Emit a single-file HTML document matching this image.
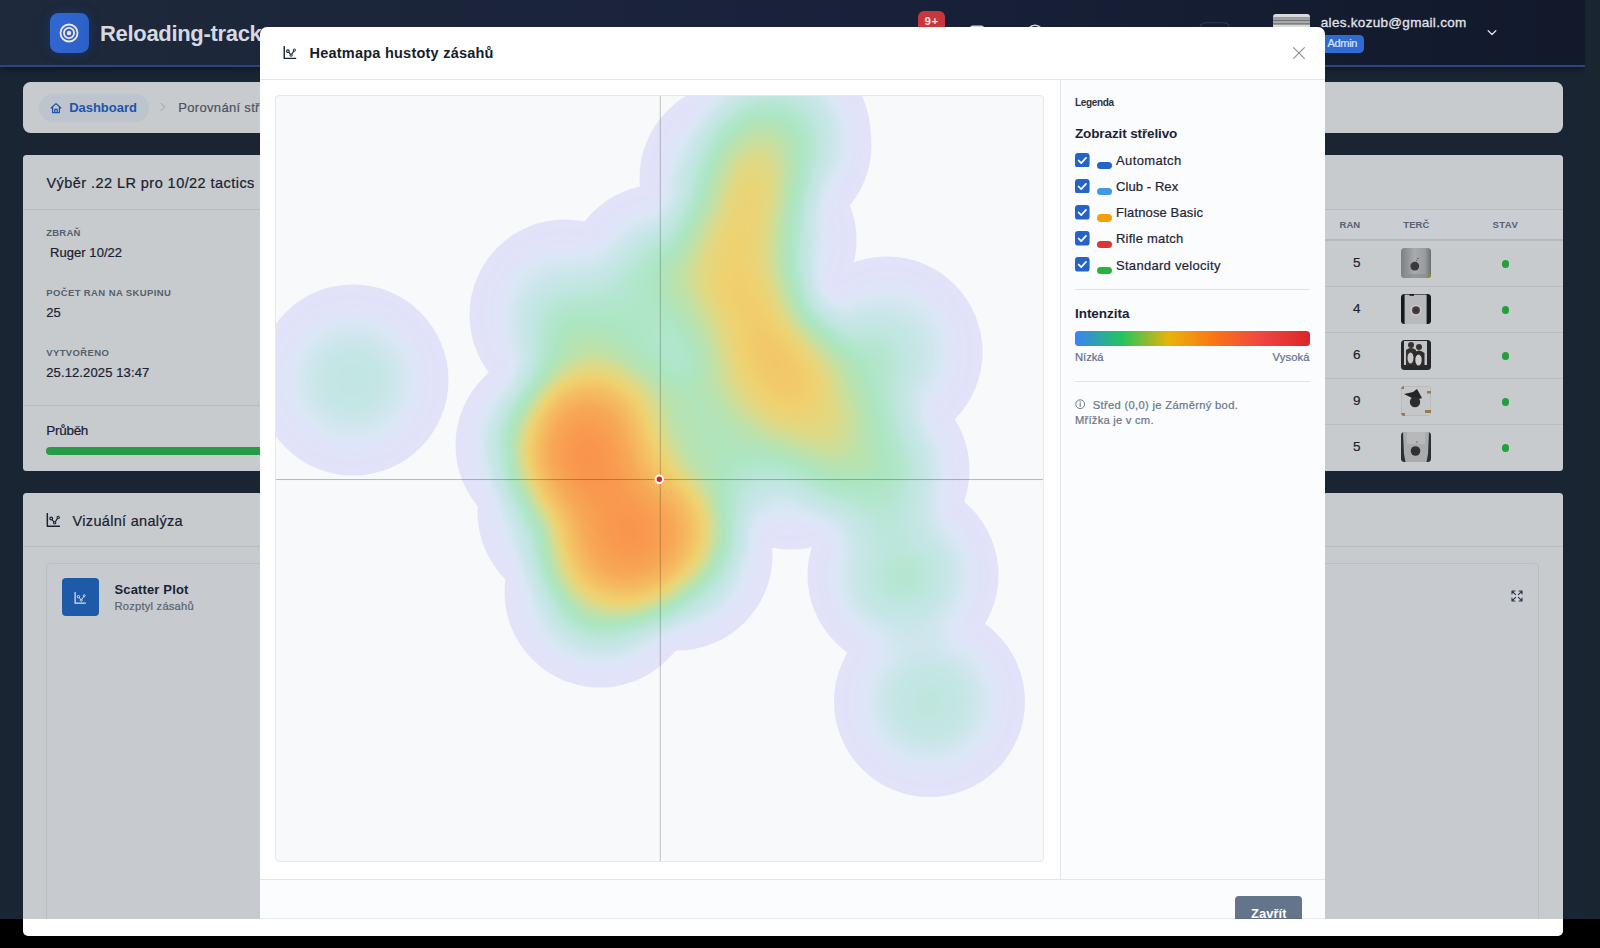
<!DOCTYPE html>
<html lang="cs"><head><meta charset="utf-8"><title>Reloading-tracker</title>
<style>
html,body{margin:0;padding:0;}
body{width:1600px;height:948px;overflow:hidden;background:#000;position:relative;font-family:"Liberation Sans", "DejaVu Sans", sans-serif;}
.t{position:absolute;white-space:nowrap;line-height:1;}
.abs{position:absolute;}
.card{position:absolute;background:#c8cbce;border-radius:3.5px;}
</style></head><body>
<div class="abs" style="left:0;top:0;width:1600px;height:919px;background:#1a2533;"></div>
<div class="abs" style="left:1584.5px;top:0;width:15.5px;height:919px;background:#192530;"></div>
<div class="abs" style="left:0;top:0;width:1584.5px;height:82px;overflow:hidden;"><div class="abs" style="left:0;top:0;width:1584.5px;height:65.2px;background:linear-gradient(90deg,#1e293b 0%,#19223a 50%,#11192b 100%);border-bottom:2px solid #2a467d;box-shadow:0 2px 7px rgba(0,0,0,.45);"></div></div>
<div class="abs" style="left:49.5px;top:12.9px;width:39.5px;height:40px;border-radius:8.5px;background:linear-gradient(100deg,#3068d2,#2b60c6);box-shadow:0 0 9px rgba(20,40,90,.55),0 0 12px rgba(47,104,212,.25);"></div>
<svg class="abs" style="left:57px;top:21.1px" width="24" height="24" viewBox="0 0 24 24"><circle cx="12" cy="12" r="8.5" fill="none" stroke="#f3e6d6" stroke-width="1.8"/><circle cx="12" cy="12" r="5.1" fill="none" stroke="#f3e6d6" stroke-width="1.8"/><circle cx="12" cy="12" r="2.2" fill="#f3e6d6"/></svg>
<span id="t1" class="t" style="left:100.00px;top:22.78px;font-size:22px;font-weight:700;color:#d4d9e2;letter-spacing:-0.316px;">Reloading-tracker</span>
<div class="abs" style="left:918px;top:11.3px;width:26.5px;height:22px;border-radius:6px;background:#c8373c;"></div>
<span id="t2" class="t" style="left:931.69px;transform:translateX(-50%);top:15.87px;font-size:11.5px;font-weight:700;color:#f3e1e1;letter-spacing:0.575px;">9+</span>
<svg class="abs" style="left:960px;top:18px" width="290" height="30" viewBox="960 18 290 30"><rect x="970.7" y="26.2" width="12.6" height="11" rx="2" fill="none" stroke="#d5dae3" stroke-width="1.5"/><circle cx="1035" cy="33.6" r="8.3" fill="none" stroke="#d5dae3" stroke-width="1.5"/><rect x="1199.5" y="22.8" width="30.5" height="22" rx="6" fill="none" stroke="#2f3b52" stroke-width="1.1"/></svg>
<div class="abs" style="left:1272.5px;top:13.7px;width:37.5px;height:37.5px;border-radius:3px;background:linear-gradient(180deg,#dcdee0 0,#d4d6d8 2.6px,#9a9c9e 3.4px,#9fa1a3 5.6px,#6f7173 6.2px,#6f7173 6.9px,#a7a9ab 7.4px,#a7a9ab 9px,#7d7f81 9.5px,#7d7f81 10.3px,#d7d9db 11px,#d7d9db 14px,#8a8d90 20px,#5c5f62 100%);"></div>
<span id="t3" class="t" style="left:1320.80px;top:15.57px;font-size:13.5px;font-weight:400;color:#e1e5ec;letter-spacing:0.302px;-webkit-text-stroke:.3px #e1e5ec;">ales.kozub@gmail.com</span>
<div class="abs" style="left:1320px;top:34.5px;width:44px;height:18px;border-radius:4.5px;background:#2f6bd0;"></div>
<span id="t4" class="t" style="left:1327.50px;top:38.19px;font-size:11px;font-weight:400;color:#d9e6fb;letter-spacing:-0.297px;-webkit-text-stroke:.22px #d9e6fb;">Admin</span>
<svg class="abs" style="left:1486px;top:28px" width="12" height="10" viewBox="0 0 12 10"><path d="M2.2 2.8 L6 6.6 L9.8 2.8" fill="none" stroke="#d5dae3" stroke-width="1.4" stroke-linecap="round" stroke-linejoin="round"/></svg>
<div class="card" style="left:22.5px;top:82px;width:1540.2px;height:50.8px;border-radius:7.5px;"></div>
<div class="abs" style="left:38.8px;top:94px;width:110px;height:27.5px;border-radius:14px;background:#bdc4cd;"></div>
<svg class="abs" style="left:50px;top:101.5px" width="12" height="12" viewBox="0 0 12 12"><path d="M1.2 6 L6 1.6 L10.8 6 M2.6 5.2 V10.6 H9.4 V5.2 M4.8 10.6 V7.4 H7.2 V10.6" fill="none" stroke="#1e54a8" stroke-width="1.2" stroke-linejoin="round" stroke-linecap="round"/></svg>
<span id="t5" class="t" style="left:69.20px;top:101.20px;font-size:13px;font-weight:700;color:#1e54a8;letter-spacing:-0.026px;">Dashboard</span>
<svg class="abs" style="left:159px;top:102px" width="8" height="10" viewBox="0 0 8 10"><path d="M2 1.4 L5.8 5 L2 8.6" fill="none" stroke="#adb3bb" stroke-width="1.4" stroke-linecap="round" stroke-linejoin="round"/></svg>
<span id="t6" class="t" style="left:178.30px;top:101.20px;font-size:13px;font-weight:400;color:#4b5462;letter-spacing:0.320px;-webkit-text-stroke:.22px #4b5462;">Porovnání střeliva</span>
<div class="card" style="left:22.5px;top:155.3px;width:1540.2px;height:315.3px;"></div>
<span id="t7" class="t" style="left:46.40px;top:176.23px;font-size:14.5px;font-weight:400;color:#1a2233;letter-spacing:0.446px;-webkit-text-stroke:.22px #1a2233;">Výběr .22 LR pro 10/22 tactics</span>
<div class="abs" style="left:22.5px;top:208.8px;width:1540px;height:1px;background:#b9bcc0;"></div>
<span id="t8" class="t" style="left:46.20px;top:227.76px;font-size:9.5px;font-weight:700;color:#545f70;letter-spacing:0.238px;">ZBRAŇ</span>
<span id="t9" class="t" style="left:50.00px;top:246.30px;font-size:13px;font-weight:400;color:#1a2233;letter-spacing:0.054px;-webkit-text-stroke:.22px #1a2233;">Ruger 10/22</span>
<span id="t10" class="t" style="left:46.20px;top:287.76px;font-size:9.5px;font-weight:700;color:#545f70;letter-spacing:0.386px;">POČET RAN NA SKUPINU</span>
<span id="t11" class="t" style="left:46.20px;top:306.20px;font-size:13px;font-weight:400;color:#1a2233;letter-spacing:0.131px;-webkit-text-stroke:.22px #1a2233;">25</span>
<span id="t12" class="t" style="left:46.20px;top:347.56px;font-size:9.5px;font-weight:700;color:#545f70;letter-spacing:0.393px;">VYTVOŘENO</span>
<span id="t13" class="t" style="left:46.20px;top:366.20px;font-size:13px;font-weight:400;color:#1a2233;letter-spacing:0.125px;-webkit-text-stroke:.22px #1a2233;">25.12.2025 13:47</span>
<div class="abs" style="left:22.5px;top:405.1px;width:300px;height:1px;background:#b9bcc0;"></div>
<span id="t14" class="t" style="left:46.20px;top:423.57px;font-size:13.5px;font-weight:400;color:#1a2233;letter-spacing:-0.269px;-webkit-text-stroke:.22px #1a2233;">Průběh</span>
<div class="abs" style="left:45.8px;top:446.7px;width:230px;height:8.3px;border-radius:4.2px 0 0 4.2px;background:#289b46;"></div>
<div class="abs" style="left:1300px;top:210px;width:262.5px;height:30px;background:#cacdd1;"></div>
<div class="abs" style="left:1300px;top:239.2px;width:262.5px;height:2px;background:#b5b9be;"></div>
<div class="abs" style="left:1300px;top:285.8px;width:262.5px;height:1px;background:#b9bcc0;"></div>
<div class="abs" style="left:1300px;top:331.8px;width:262.5px;height:1px;background:#b9bcc0;"></div>
<div class="abs" style="left:1300px;top:377.8px;width:262.5px;height:1px;background:#b9bcc0;"></div>
<div class="abs" style="left:1300px;top:423.8px;width:262.5px;height:1px;background:#b9bcc0;"></div>
<span id="t15" class="t" style="left:1339.60px;top:220.46px;font-size:9.5px;font-weight:700;color:#566172;letter-spacing:0.003px;">RAN</span>
<span id="t16" class="t" style="left:1403.30px;top:220.46px;font-size:9.5px;font-weight:700;color:#566172;letter-spacing:0.042px;">TERČ</span>
<span id="t17" class="t" style="left:1492.60px;top:220.46px;font-size:9.5px;font-weight:700;color:#566172;letter-spacing:0.421px;">STAV</span>
<span id="t18" class="t" style="left:1356.80px;transform:translateX(-50%);top:256.27px;font-size:13.5px;font-weight:400;color:#1a2233;letter-spacing:0.000px;-webkit-text-stroke:.22px #1a2233;">5</span>
<svg class="abs" style="left:1401.2px;top:248.0px;border-radius:3.5px;" width="30" height="30" viewBox="0 0 30 30"><defs><linearGradient id="tg1" x1="0" x2="1" y1="0" y2="0"><stop offset="0" stop-color="#7d8083"/><stop offset=".45" stop-color="#a8aaad"/><stop offset=".8" stop-color="#999b9e"/><stop offset="1" stop-color="#6c6f72"/></linearGradient></defs><rect width="30" height="30" fill="url(#tg1)"/><rect y="26" width="30" height="4" fill="#8a8c8f" fill-opacity=".6"/><circle cx="13.8" cy="18.1" r="4.4" fill="#38393c"/><circle cx="17" cy="10.5" r=".7" fill="#555"/><circle cx="15.6" cy="12.6" r=".6" fill="#5a5a5a"/><rect x="27" y="26.5" width="3" height="3" fill="#8d8a25"/></svg>
<div class="abs" style="left:1501.5px;top:259.9px;width:7.8px;height:7.8px;border-radius:50%;background:#22a03c;"></div>
<span id="t19" class="t" style="left:1356.80px;transform:translateX(-50%);top:302.27px;font-size:13.5px;font-weight:400;color:#1a2233;letter-spacing:0.000px;-webkit-text-stroke:.22px #1a2233;">4</span>
<svg class="abs" style="left:1401.2px;top:294.0px;border-radius:3.5px;" width="30" height="30" viewBox="0 0 30 30"><rect width="30" height="30" fill="#17181b"/><rect x="3.6" y="0.6" width="22" height="29.4" fill="#b7b9bb"/><rect x="8.5" y="0" width="4.5" height="1.8" fill="#17181b"/><circle cx="15" cy="16.3" r="5.6" fill="#c9cacb"/><circle cx="15" cy="16.3" r="4" fill="#4d3e42"/><circle cx="15" cy="16.3" r="2" fill="#3a2f33"/></svg>
<div class="abs" style="left:1501.5px;top:305.9px;width:7.8px;height:7.8px;border-radius:50%;background:#22a03c;"></div>
<span id="t20" class="t" style="left:1356.80px;transform:translateX(-50%);top:348.27px;font-size:13.5px;font-weight:400;color:#1a2233;letter-spacing:0.000px;-webkit-text-stroke:.22px #1a2233;">6</span>
<svg class="abs" style="left:1401.2px;top:340.0px;border-radius:3.5px;" width="30" height="30" viewBox="0 0 30 30"><rect width="30" height="30" fill="#26282b"/><rect x="3" y="1" width="23" height="24" fill="#c3c4c6"/><circle cx="10" cy="5" r="3" fill="#3a3032"/><path d="M5 10 Q10 6 15 10 V25 H5 Z" fill="#34302f"/><circle cx="18" cy="7" r="3" fill="#3a3032"/><path d="M12.5 13 Q18 8 23.5 13 V26 H12.5 Z" fill="#2f2b2c"/><ellipse cx="9.5" cy="18" rx="3" ry="5.5" fill="#c9c9ca"/><ellipse cx="17.5" cy="20" rx="3.2" ry="5.5" fill="#cfcfd0"/></svg>
<div class="abs" style="left:1501.5px;top:351.9px;width:7.8px;height:7.8px;border-radius:50%;background:#22a03c;"></div>
<span id="t21" class="t" style="left:1356.80px;transform:translateX(-50%);top:394.27px;font-size:13.5px;font-weight:400;color:#1a2233;letter-spacing:0.000px;-webkit-text-stroke:.22px #1a2233;">9</span>
<svg class="abs" style="left:1401.2px;top:386.0px;border-radius:3.5px;" width="30" height="30" viewBox="0 0 30 30"><rect width="30" height="30" fill="#b9babb"/><rect x="1" y="1" width="28" height="28" fill="#c6c7c8"/><path d="M3 8 L12 6 L16 3 L21 12 L15 14 Z" fill="#232527"/><circle cx="14" cy="16" r="5.2" fill="#2b2d30"/><rect x="0" y="0" width="3" height="3" fill="#9a7a4a"/><rect x="26" y="5" width="4" height="2.5" fill="#9a7a4a"/><rect x="24" y="24" width="6" height="3" fill="#9a7a4a"/><rect x="0" y="27" width="4" height="3" fill="#9a7a4a"/></svg>
<div class="abs" style="left:1501.5px;top:397.9px;width:7.8px;height:7.8px;border-radius:50%;background:#22a03c;"></div>
<span id="t22" class="t" style="left:1356.80px;transform:translateX(-50%);top:440.27px;font-size:13.5px;font-weight:400;color:#1a2233;letter-spacing:0.000px;-webkit-text-stroke:.22px #1a2233;">5</span>
<svg class="abs" style="left:1401.2px;top:432.0px;border-radius:3.5px;" width="30" height="30" viewBox="0 0 30 30"><rect width="30" height="30" fill="#2c2f32"/><path d="M2 0 H28 L27 22 L25.5 30 H4.5 L3 22 Z" fill="#a9abad"/><rect x="6" y="0" width="18" height="12" fill="#b6b8ba"/><circle cx="14.5" cy="19" r="4.8" fill="#303135"/><circle cx="16" cy="10" r=".7" fill="#555"/></svg>
<div class="abs" style="left:1501.5px;top:443.9px;width:7.8px;height:7.8px;border-radius:50%;background:#22a03c;"></div>
<div class="card" style="left:22.5px;top:493.4px;width:1540.2px;height:430px;"></div>
<svg class="abs" style="left:45.9px;top:513.2px" width="14.445" height="14.445" viewBox="0 0 13.5 13.5"><path d="M1.25 0.6 V12.5 H12.6" fill="none" stroke="#1a2233" stroke-width="1.4" stroke-linecap="round" stroke-linejoin="round"/><path d="M4.9 5.2 L8.1 9.2 L11.4 4.1" fill="none" stroke="#1a2233" stroke-width="1.1"/><circle cx="4.9" cy="5.2" r="1.3" fill="#c8cbce" stroke="#1a2233" stroke-width="1.1"/><circle cx="8.1" cy="9.2" r="1.1" fill="#c8cbce" stroke="#1a2233" stroke-width="1.0"/><circle cx="11.4" cy="4.1" r="1.1" fill="#c8cbce" stroke="#1a2233" stroke-width="1.0"/></svg>
<span id="t23" class="t" style="left:72.60px;top:513.53px;font-size:14.5px;font-weight:400;color:#1a2233;letter-spacing:0.310px;-webkit-text-stroke:.22px #1a2233;">Vizuální analýza</span>
<div class="abs" style="left:22.5px;top:546.3px;width:1540px;height:1px;background:#b9bcc0;"></div>
<div class="abs" style="left:46px;top:562.5px;width:1490.5px;height:380px;border:1px solid #babdc1;border-radius:4px;background:#c7cace;"></div>
<div class="abs" style="left:62px;top:578.4px;width:37px;height:37.2px;border-radius:4px;background:#1e5aa8;"></div>
<svg class="abs" style="left:74.2px;top:591.6px" width="12.15" height="12.15" viewBox="0 0 13.5 13.5"><path d="M1.25 0.6 V12.5 H12.6" fill="none" stroke="#d7e2f3" stroke-width="1.4" stroke-linecap="round" stroke-linejoin="round"/><path d="M4.9 5.2 L8.1 9.2 L11.4 4.1" fill="none" stroke="#d7e2f3" stroke-width="1.1"/><circle cx="4.9" cy="5.2" r="1.3" fill="#1e5aa8" stroke="#d7e2f3" stroke-width="1.1"/><circle cx="8.1" cy="9.2" r="1.1" fill="#1e5aa8" stroke="#d7e2f3" stroke-width="1.0"/><circle cx="11.4" cy="4.1" r="1.1" fill="#1e5aa8" stroke="#d7e2f3" stroke-width="1.0"/></svg>
<span id="t24" class="t" style="left:114.50px;top:582.80px;font-size:13px;font-weight:700;color:#1a2233;letter-spacing:0.141px;">Scatter Plot</span>
<span id="t25" class="t" style="left:114.50px;top:600.82px;font-size:11.2px;font-weight:400;color:#5a6473;letter-spacing:0.208px;-webkit-text-stroke:.22px #5a6473;">Rozptyl zásahů</span>
<svg class="abs" style="left:1511px;top:590px" width="12" height="12" viewBox="0 0 12 12"><rect x="1" y="1.5" width="10" height="10" fill="#cdd2dc"/><path d="M1 4 V1 H4 M8 1 H11 V4 M11 8 V11 H8 M4 11 H1 V8 M1.3 1.3 L4.6 4.6 M10.7 1.3 L7.4 4.6 M10.7 10.7 L7.4 7.4 M1.3 10.7 L4.6 7.4" fill="none" stroke="#2b3444" stroke-width="1.1" stroke-linecap="round" stroke-linejoin="round"/></svg>
<div class="abs" style="left:0;top:919px;width:1600px;height:29px;background:#000;"></div>
<div class="abs" style="left:22.5px;top:919px;width:1540px;height:16.6px;background:#fff;border-radius:0 0 5px 5px;"></div>
<div class="abs" style="left:260px;top:27px;width:1065px;height:892px;background:#fff;border-radius:7px 7px 0 0;overflow:hidden;">
<div class="abs" style="left:0;top:52px;width:1065px;height:1px;background:#e4e6f0;"></div>
<div class="abs" style="left:799.5px;top:53px;width:265.5px;height:800px;background:#fbfcfe;border-left:1px solid #e3e5ea;"></div>
<div class="abs" style="left:0;top:851.5px;width:1065px;height:60px;background:#fbfcfe;border-top:1px solid #e3e5ea;"></div>
</div>
<svg class="abs" style="left:283.2px;top:45.9px" width="13.5" height="13.5" viewBox="0 0 13.5 13.5"><path d="M1.25 0.6 V12.5 H12.6" fill="none" stroke="#1a2130" stroke-width="1.4" stroke-linecap="round" stroke-linejoin="round"/><path d="M4.9 5.2 L8.1 9.2 L11.4 4.1" fill="none" stroke="#1a2130" stroke-width="1.1"/><circle cx="4.9" cy="5.2" r="1.3" fill="#fff" stroke="#1a2130" stroke-width="1.1"/><circle cx="8.1" cy="9.2" r="1.1" fill="#fff" stroke="#1a2130" stroke-width="1.0"/><circle cx="11.4" cy="4.1" r="1.1" fill="#fff" stroke="#1a2130" stroke-width="1.0"/></svg>
<span id="t26" class="t" style="left:309.50px;top:46.13px;font-size:14.5px;font-weight:700;color:#161d2b;letter-spacing:0.232px;">Heatmapa hustoty zásahů</span>
<svg class="abs" style="left:1290.6px;top:45.3px" width="16" height="16" viewBox="0 0 16 16"><path d="M2.6 2.6 L13.4 13.4 M13.4 2.6 L2.6 13.4" stroke="#8a8d92" stroke-width="1.1" fill="none" stroke-linecap="round"/></svg>
<div class="abs" style="left:275px;top:95px;width:769px;height:767px;background:#f8f9fb;border:1px solid #e6e8ec;border-radius:4px;overflow:hidden;box-sizing:border-box;">
<svg class="abs" style="left:0;top:0" width="767" height="765" viewBox="276 96 767 765"><defs><radialGradient id="hg"><stop offset="0" stop-color="#000" stop-opacity="0.0950"/><stop offset="0.05" stop-color="#000" stop-opacity="0.0944"/><stop offset="0.1" stop-color="#000" stop-opacity="0.0927"/><stop offset="0.15" stop-color="#000" stop-opacity="0.0898"/><stop offset="0.2" stop-color="#000" stop-opacity="0.0859"/><stop offset="0.25" stop-color="#000" stop-opacity="0.0811"/><stop offset="0.3" stop-color="#000" stop-opacity="0.0754"/><stop offset="0.35" stop-color="#000" stop-opacity="0.0691"/><stop offset="0.4" stop-color="#000" stop-opacity="0.0622"/><stop offset="0.45" stop-color="#000" stop-opacity="0.0549"/><stop offset="0.5" stop-color="#000" stop-opacity="0.0475"/><stop offset="0.55" stop-color="#000" stop-opacity="0.0401"/><stop offset="0.6" stop-color="#000" stop-opacity="0.0328"/><stop offset="0.65" stop-color="#000" stop-opacity="0.0259"/><stop offset="0.7" stop-color="#000" stop-opacity="0.0196"/><stop offset="0.75" stop-color="#000" stop-opacity="0.0139"/><stop offset="0.8" stop-color="#000" stop-opacity="0.0091"/><stop offset="0.85" stop-color="#000" stop-opacity="0.0052"/><stop offset="0.9" stop-color="#000" stop-opacity="0.0023"/><stop offset="0.95" stop-color="#000" stop-opacity="0.0006"/><stop offset="1" stop-color="#000" stop-opacity="0.0000"/></radialGradient><filter id="heat" filterUnits="userSpaceOnUse" x="256" y="76" width="808" height="807" color-interpolation-filters="sRGB"><feColorMatrix type="matrix" values="0 0 0 1 0  0 0 0 1 0  0 0 0 1 0  0 0 0 0 1"/><feComponentTransfer><feFuncR type="table" tableValues="0.8863 0.8835 0.8744 0.8598 0.8400 0.8201 0.8040 0.7888 0.7737 0.7668 0.7604 0.7463 0.7321 0.7180 0.7079 0.6997 0.6914 0.6832 0.6749 0.6846 0.6952 0.7058 0.7164 0.7271 0.7377 0.7508 0.7696 0.7885 0.8074 0.8262 0.8451 0.8640 0.8775 0.8881 0.8987 0.9093 0.9199 0.9306 0.9412 0.9429 0.9446 0.9463 0.9481 0.9498 0.9515 0.9532 0.9549 0.9567 0.9584 0.9601 0.9611 0.9616 0.9621 0.9626 0.9632 0.9637 0.9642 0.9647 0.9652 0.9657 0.9663 0.9668 0.9673 0.9678 0.9683 0.9688 0.9692 0.9697 0.9701 0.9705 0.9710 0.9714 0.9718 0.9723 0.9727 0.9731 0.9736 0.9740 0.9745 0.9749 0.9753 0.9758 0.9762 0.9765 0.9765 0.9765 0.9765 0.9765 0.9765 0.9765 0.9765 0.9765 0.9765 0.9765 0.9765 0.9765 0.9765 0.9765 0.9765 0.9765 0.9765"/><feFuncG type="table" tableValues="0.8863 0.8918 0.8989 0.9059 0.9059 0.9059 0.9048 0.9034 0.9021 0.9020 0.9020 0.9020 0.9020 0.9020 0.9020 0.9020 0.9020 0.9020 0.9020 0.8997 0.8974 0.8950 0.8926 0.8903 0.8879 0.8849 0.8801 0.8754 0.8707 0.8660 0.8613 0.8566 0.8518 0.8471 0.8424 0.8377 0.8330 0.8282 0.8235 0.8166 0.8098 0.8029 0.7960 0.7891 0.7822 0.7754 0.7685 0.7616 0.7547 0.7479 0.7420 0.7368 0.7317 0.7265 0.7214 0.7162 0.7110 0.7059 0.7007 0.6956 0.6904 0.6852 0.6801 0.6749 0.6698 0.6654 0.6621 0.6588 0.6556 0.6523 0.6491 0.6458 0.6426 0.6393 0.6360 0.6328 0.6295 0.6263 0.6230 0.6197 0.6165 0.6132 0.6100 0.6068 0.6040 0.6011 0.5983 0.5954 0.5926 0.5897 0.5868 0.5840 0.5811 0.5783 0.5754 0.5725 0.5702 0.5678 0.5655 0.5631 0.5608"/><feFuncB type="table" tableValues="0.9765 0.9765 0.9733 0.9664 0.9515 0.9367 0.9237 0.9114 0.8990 0.8923 0.8858 0.8669 0.8481 0.8292 0.8143 0.8011 0.7879 0.7747 0.7614 0.7473 0.7332 0.7190 0.7049 0.6907 0.6766 0.6605 0.6398 0.6192 0.5986 0.5779 0.5573 0.5366 0.5206 0.5070 0.4935 0.4799 0.4663 0.4528 0.4392 0.4347 0.4303 0.4258 0.4213 0.4169 0.4124 0.4079 0.4034 0.3990 0.3945 0.3900 0.3865 0.3837 0.3809 0.3780 0.3752 0.3723 0.3695 0.3667 0.3638 0.3610 0.3582 0.3553 0.3525 0.3496 0.3468 0.3444 0.3427 0.3409 0.3392 0.3375 0.3357 0.3340 0.3322 0.3305 0.3288 0.3270 0.3253 0.3235 0.3218 0.3201 0.3183 0.3166 0.3149 0.3133 0.3120 0.3107 0.3095 0.3082 0.3069 0.3057 0.3044 0.3031 0.3018 0.3006 0.2993 0.2980 0.2973 0.2965 0.2957 0.2949 0.2941"/></feComponentTransfer><feGaussianBlur stdDeviation="1.6"/></filter><clipPath id="hc"><circle cx="353" cy="380" r="95.5"/><circle cx="735" cy="178" r="95.5"/><circle cx="776" cy="145" r="95.5"/><circle cx="761" cy="240" r="95.5"/><circle cx="887" cy="352" r="95.5"/><circle cx="660" cy="280" r="95.5"/><circle cx="565" cy="315" r="95.5"/><circle cx="551" cy="445" r="95.5"/><circle cx="573" cy="512" r="95.5"/><circle cx="600" cy="592" r="95.5"/><circle cx="677" cy="555" r="95.5"/><circle cx="791" cy="454" r="95.5"/><circle cx="874" cy="470" r="95.5"/><circle cx="903" cy="575" r="95.5"/><circle cx="929.5" cy="701.5" r="95.5"/><circle cx="592" cy="444" r="95.5"/><circle cx="619" cy="452" r="95.5"/><circle cx="598" cy="471" r="95.5"/><circle cx="571" cy="463" r="95.5"/><circle cx="565" cy="436" r="95.5"/><circle cx="586" cy="417" r="95.5"/><circle cx="613" cy="425" r="95.5"/><circle cx="640" cy="528" r="95.5"/><circle cx="656" cy="548" r="95.5"/><circle cx="626" cy="550" r="95.5"/><circle cx="615" cy="521" r="95.5"/><circle cx="639" cy="502" r="95.5"/><circle cx="664" cy="519" r="95.5"/><circle cx="615" cy="486" r="95.5"/><circle cx="690" cy="500" r="95.5"/><circle cx="600" cy="385" r="95.5"/><circle cx="625" cy="570" r="95.5"/><circle cx="598" cy="548" r="95.5"/><circle cx="744" cy="192" r="95.5"/><circle cx="740" cy="230" r="95.5"/><circle cx="737" cy="264" r="95.5"/><circle cx="739" cy="296" r="95.5"/><circle cx="750" cy="324" r="95.5"/><circle cx="764" cy="346" r="95.5"/><circle cx="766" cy="340" r="95.5"/><circle cx="778" cy="370" r="95.5"/><circle cx="790" cy="392" r="95.5"/><circle cx="775" cy="135" r="95.5"/><circle cx="678" cy="285" r="95.5"/><circle cx="840" cy="385" r="95.5"/><circle cx="840" cy="432" r="95.5"/><circle cx="805" cy="412" r="95.5"/><circle cx="700" cy="405" r="95.5"/><circle cx="720" cy="440" r="95.5"/><circle cx="588" cy="352" r="95.5"/><circle cx="662" cy="378" r="95.5"/></clipPath></defs><g clip-path="url(#hc)"><g filter="url(#heat)"><g style="isolation:isolate"><circle cx="353" cy="380" r="95.5" fill="url(#hg)" style="mix-blend-mode:plus-lighter"/><circle cx="735" cy="178" r="95.5" fill="url(#hg)" style="mix-blend-mode:plus-lighter"/><circle cx="776" cy="145" r="95.5" fill="url(#hg)" style="mix-blend-mode:plus-lighter"/><circle cx="761" cy="240" r="95.5" fill="url(#hg)" style="mix-blend-mode:plus-lighter"/><circle cx="887" cy="352" r="95.5" fill="url(#hg)" style="mix-blend-mode:plus-lighter"/><circle cx="660" cy="280" r="95.5" fill="url(#hg)" style="mix-blend-mode:plus-lighter"/><circle cx="565" cy="315" r="95.5" fill="url(#hg)" style="mix-blend-mode:plus-lighter"/><circle cx="551" cy="445" r="95.5" fill="url(#hg)" style="mix-blend-mode:plus-lighter"/><circle cx="551" cy="445" r="95.5" fill="url(#hg)" style="mix-blend-mode:plus-lighter"/><circle cx="573" cy="512" r="95.5" fill="url(#hg)" style="mix-blend-mode:plus-lighter"/><circle cx="573" cy="512" r="95.5" fill="url(#hg)" style="mix-blend-mode:plus-lighter"/><circle cx="600" cy="592" r="95.5" fill="url(#hg)" style="mix-blend-mode:plus-lighter"/><circle cx="600" cy="592" r="95.5" fill="url(#hg)" style="mix-blend-mode:plus-lighter"/><circle cx="677" cy="555" r="95.5" fill="url(#hg)" style="mix-blend-mode:plus-lighter"/><circle cx="677" cy="555" r="95.5" fill="url(#hg)" style="mix-blend-mode:plus-lighter"/><circle cx="791" cy="454" r="95.5" fill="url(#hg)" style="mix-blend-mode:plus-lighter"/><circle cx="874" cy="470" r="95.5" fill="url(#hg)" style="mix-blend-mode:plus-lighter"/><circle cx="874" cy="470" r="95.5" fill="url(#hg)" fill-opacity="0.80" style="mix-blend-mode:plus-lighter"/><circle cx="903" cy="575" r="95.5" fill="url(#hg)" style="mix-blend-mode:plus-lighter"/><circle cx="903" cy="575" r="95.5" fill="url(#hg)" fill-opacity="0.40" style="mix-blend-mode:plus-lighter"/><circle cx="929.5" cy="701.5" r="95.5" fill="url(#hg)" style="mix-blend-mode:plus-lighter"/><circle cx="929.5" cy="701.5" r="95.5" fill="url(#hg)" fill-opacity="0.15" style="mix-blend-mode:plus-lighter"/><circle cx="592" cy="444" r="95.5" fill="url(#hg)" style="mix-blend-mode:plus-lighter"/><circle cx="592" cy="444" r="95.5" fill="url(#hg)" style="mix-blend-mode:plus-lighter"/><circle cx="619" cy="452" r="95.5" fill="url(#hg)" style="mix-blend-mode:plus-lighter"/><circle cx="598" cy="471" r="95.5" fill="url(#hg)" style="mix-blend-mode:plus-lighter"/><circle cx="571" cy="463" r="95.5" fill="url(#hg)" style="mix-blend-mode:plus-lighter"/><circle cx="565" cy="436" r="95.5" fill="url(#hg)" style="mix-blend-mode:plus-lighter"/><circle cx="586" cy="417" r="95.5" fill="url(#hg)" style="mix-blend-mode:plus-lighter"/><circle cx="613" cy="425" r="95.5" fill="url(#hg)" style="mix-blend-mode:plus-lighter"/><circle cx="640" cy="528" r="95.5" fill="url(#hg)" style="mix-blend-mode:plus-lighter"/><circle cx="656" cy="548" r="95.5" fill="url(#hg)" style="mix-blend-mode:plus-lighter"/><circle cx="626" cy="550" r="95.5" fill="url(#hg)" style="mix-blend-mode:plus-lighter"/><circle cx="615" cy="521" r="95.5" fill="url(#hg)" style="mix-blend-mode:plus-lighter"/><circle cx="639" cy="502" r="95.5" fill="url(#hg)" style="mix-blend-mode:plus-lighter"/><circle cx="664" cy="519" r="95.5" fill="url(#hg)" style="mix-blend-mode:plus-lighter"/><circle cx="615" cy="486" r="95.5" fill="url(#hg)" style="mix-blend-mode:plus-lighter"/><circle cx="690" cy="500" r="95.5" fill="url(#hg)" style="mix-blend-mode:plus-lighter"/><circle cx="690" cy="500" r="95.5" fill="url(#hg)" fill-opacity="0.30" style="mix-blend-mode:plus-lighter"/><circle cx="600" cy="385" r="95.5" fill="url(#hg)" style="mix-blend-mode:plus-lighter"/><circle cx="625" cy="570" r="95.5" fill="url(#hg)" style="mix-blend-mode:plus-lighter"/><circle cx="598" cy="548" r="95.5" fill="url(#hg)" style="mix-blend-mode:plus-lighter"/><circle cx="598" cy="548" r="95.5" fill="url(#hg)" fill-opacity="0.30" style="mix-blend-mode:plus-lighter"/><circle cx="744" cy="192" r="95.5" fill="url(#hg)" style="mix-blend-mode:plus-lighter"/><circle cx="740" cy="230" r="95.5" fill="url(#hg)" style="mix-blend-mode:plus-lighter"/><circle cx="737" cy="264" r="95.5" fill="url(#hg)" style="mix-blend-mode:plus-lighter"/><circle cx="739" cy="296" r="95.5" fill="url(#hg)" style="mix-blend-mode:plus-lighter"/><circle cx="750" cy="324" r="95.5" fill="url(#hg)" style="mix-blend-mode:plus-lighter"/><circle cx="764" cy="346" r="95.5" fill="url(#hg)" style="mix-blend-mode:plus-lighter"/><circle cx="766" cy="340" r="95.5" fill="url(#hg)" style="mix-blend-mode:plus-lighter"/><circle cx="778" cy="370" r="95.5" fill="url(#hg)" style="mix-blend-mode:plus-lighter"/><circle cx="790" cy="392" r="95.5" fill="url(#hg)" style="mix-blend-mode:plus-lighter"/><circle cx="775" cy="135" r="95.5" fill="url(#hg)" style="mix-blend-mode:plus-lighter"/><circle cx="678" cy="285" r="95.5" fill="url(#hg)" style="mix-blend-mode:plus-lighter"/><circle cx="840" cy="385" r="95.5" fill="url(#hg)" style="mix-blend-mode:plus-lighter"/><circle cx="840" cy="432" r="95.5" fill="url(#hg)" fill-opacity="0.50" style="mix-blend-mode:plus-lighter"/><circle cx="805" cy="412" r="95.5" fill="url(#hg)" style="mix-blend-mode:plus-lighter"/><circle cx="700" cy="405" r="95.5" fill="url(#hg)" style="mix-blend-mode:plus-lighter"/><circle cx="720" cy="440" r="95.5" fill="url(#hg)" style="mix-blend-mode:plus-lighter"/><circle cx="588" cy="352" r="95.5" fill="url(#hg)" style="mix-blend-mode:plus-lighter"/><circle cx="662" cy="378" r="95.5" fill="url(#hg)" style="mix-blend-mode:plus-lighter"/></g></g></g><rect x="659.75" y="96" width="1.1" height="767" fill="#000" fill-opacity=".21"/><rect x="276" y="479" width="768" height="1.05" fill="#000" fill-opacity=".25"/><circle cx="659.3" cy="479.3" r="3.7" fill="#dc1f1f" stroke="#fff" stroke-width="2"/></svg>
</div>
<span id="t27" class="t" style="left:1075.00px;top:97.53px;font-size:10px;font-weight:700;color:#2a3242;letter-spacing:-0.354px;">Legenda</span>
<span id="t28" class="t" style="left:1075.00px;top:126.77px;font-size:13.5px;font-weight:700;color:#1c2433;letter-spacing:-0.124px;">Zobrazit střelivo</span>
<svg class="abs" style="left:1075px;top:152.6px" width="14.6" height="14.6" viewBox="0 0 14.6 14.6"><rect width="14.6" height="14.6" rx="3.2" fill="#2463c8"/><path d="M3.6 7.5 L6.2 10.1 L11 4.9" fill="none" stroke="#fff" stroke-width="1.7" stroke-linecap="round" stroke-linejoin="round"/></svg>
<div class="abs" style="left:1096.8px;top:162.0px;width:15.6px;height:7.2px;border-radius:4px;background:#2563c4;"></div>
<span id="t29" class="t" style="left:1116.00px;top:153.70px;font-size:13px;font-weight:400;color:#1f2735;letter-spacing:0.380px;-webkit-text-stroke:.22px #1f2735;">Automatch</span>
<svg class="abs" style="left:1075px;top:178.8px" width="14.6" height="14.6" viewBox="0 0 14.6 14.6"><rect width="14.6" height="14.6" rx="3.2" fill="#2463c8"/><path d="M3.6 7.5 L6.2 10.1 L11 4.9" fill="none" stroke="#fff" stroke-width="1.7" stroke-linecap="round" stroke-linejoin="round"/></svg>
<div class="abs" style="left:1096.8px;top:188.2px;width:15.6px;height:7.2px;border-radius:4px;background:#4299e1;"></div>
<span id="t30" class="t" style="left:1116.00px;top:179.90px;font-size:13px;font-weight:400;color:#1f2735;letter-spacing:0.086px;-webkit-text-stroke:.22px #1f2735;">Club - Rex</span>
<svg class="abs" style="left:1075px;top:205.0px" width="14.6" height="14.6" viewBox="0 0 14.6 14.6"><rect width="14.6" height="14.6" rx="3.2" fill="#2463c8"/><path d="M3.6 7.5 L6.2 10.1 L11 4.9" fill="none" stroke="#fff" stroke-width="1.7" stroke-linecap="round" stroke-linejoin="round"/></svg>
<div class="abs" style="left:1096.8px;top:214.4px;width:15.6px;height:7.2px;border-radius:4px;background:#f59e0b;"></div>
<span id="t31" class="t" style="left:1116.00px;top:206.10px;font-size:13px;font-weight:400;color:#1f2735;letter-spacing:0.126px;-webkit-text-stroke:.22px #1f2735;">Flatnose Basic</span>
<svg class="abs" style="left:1075px;top:231.2px" width="14.6" height="14.6" viewBox="0 0 14.6 14.6"><rect width="14.6" height="14.6" rx="3.2" fill="#2463c8"/><path d="M3.6 7.5 L6.2 10.1 L11 4.9" fill="none" stroke="#fff" stroke-width="1.7" stroke-linecap="round" stroke-linejoin="round"/></svg>
<div class="abs" style="left:1096.8px;top:240.6px;width:15.6px;height:7.2px;border-radius:4px;background:#dc3535;"></div>
<span id="t32" class="t" style="left:1116.00px;top:232.30px;font-size:13px;font-weight:400;color:#1f2735;letter-spacing:0.227px;-webkit-text-stroke:.22px #1f2735;">Rifle match</span>
<svg class="abs" style="left:1075px;top:257.4px" width="14.6" height="14.6" viewBox="0 0 14.6 14.6"><rect width="14.6" height="14.6" rx="3.2" fill="#2463c8"/><path d="M3.6 7.5 L6.2 10.1 L11 4.9" fill="none" stroke="#fff" stroke-width="1.7" stroke-linecap="round" stroke-linejoin="round"/></svg>
<div class="abs" style="left:1096.8px;top:266.8px;width:15.6px;height:7.2px;border-radius:4px;background:#28b43c;"></div>
<span id="t33" class="t" style="left:1116.00px;top:258.50px;font-size:13px;font-weight:400;color:#1f2735;letter-spacing:0.292px;-webkit-text-stroke:.22px #1f2735;">Standard velocity</span>
<div class="abs" style="left:1075px;top:289px;width:235px;height:1px;background:#e0e2e7;"></div>
<span id="t34" class="t" style="left:1075.00px;top:307.47px;font-size:13.5px;font-weight:700;color:#1c2433;letter-spacing:-0.046px;">Intenzita</span>
<div class="abs" style="left:1075px;top:331.3px;width:235px;height:14.6px;border-radius:3.5px;background:linear-gradient(90deg,#3b82f6 0%,#22c55e 20%,#eab308 40%,#f97316 60%,#ef4444 80%,#dc2626 100%);"></div>
<span id="t35" class="t" style="left:1075.00px;top:352.42px;font-size:11.2px;font-weight:400;color:#64708a;letter-spacing:-0.027px;-webkit-text-stroke:.22px #64708a;">Nízká</span>
<span id="t36" class="t" style="right:290.38px;top:352.42px;font-size:11.2px;font-weight:400;color:#64708a;letter-spacing:0.124px;-webkit-text-stroke:.22px #64708a;">Vysoká</span>
<div class="abs" style="left:1075px;top:381px;width:235px;height:1px;background:#e0e2e7;"></div>
<svg class="abs" style="left:1075px;top:399.3px" width="10.4" height="10.4" viewBox="0 0 10.4 10.4"><circle cx="5.2" cy="5.2" r="4.4" fill="none" stroke="#6b768a" stroke-width="1"/><path d="M5.2 4.6 V7.4" stroke="#6b768a" stroke-width="1.1" stroke-linecap="round"/><circle cx="5.2" cy="3" r=".7" fill="#6b768a"/></svg>
<span id="t37" class="t" style="left:1092.80px;top:399.52px;font-size:11.2px;font-weight:400;color:#6b768a;letter-spacing:0.316px;-webkit-text-stroke:.22px #6b768a;">Střed (0,0) je Záměrný bod.</span>
<span id="t38" class="t" style="left:1075.00px;top:415.32px;font-size:11.2px;font-weight:400;color:#6b768a;letter-spacing:0.234px;-webkit-text-stroke:.22px #6b768a;">Mřížka je v cm.</span>
<div class="abs" style="left:1235px;top:896.3px;width:67px;height:22.7px;border-radius:4px 4px 0 0;background:#64748b;"></div>
<div class="abs" style="left:260px;top:918.3px;width:1065px;height:1px;background:rgba(0,0,0,.07);"></div>
<span id="t39" class="t" style="left:1251.00px;top:906.60px;font-size:13px;font-weight:700;color:#fff;letter-spacing:0.019px;clip-path:inset(0 0 0.8px 0);">Zavřít</span>
</body></html>
